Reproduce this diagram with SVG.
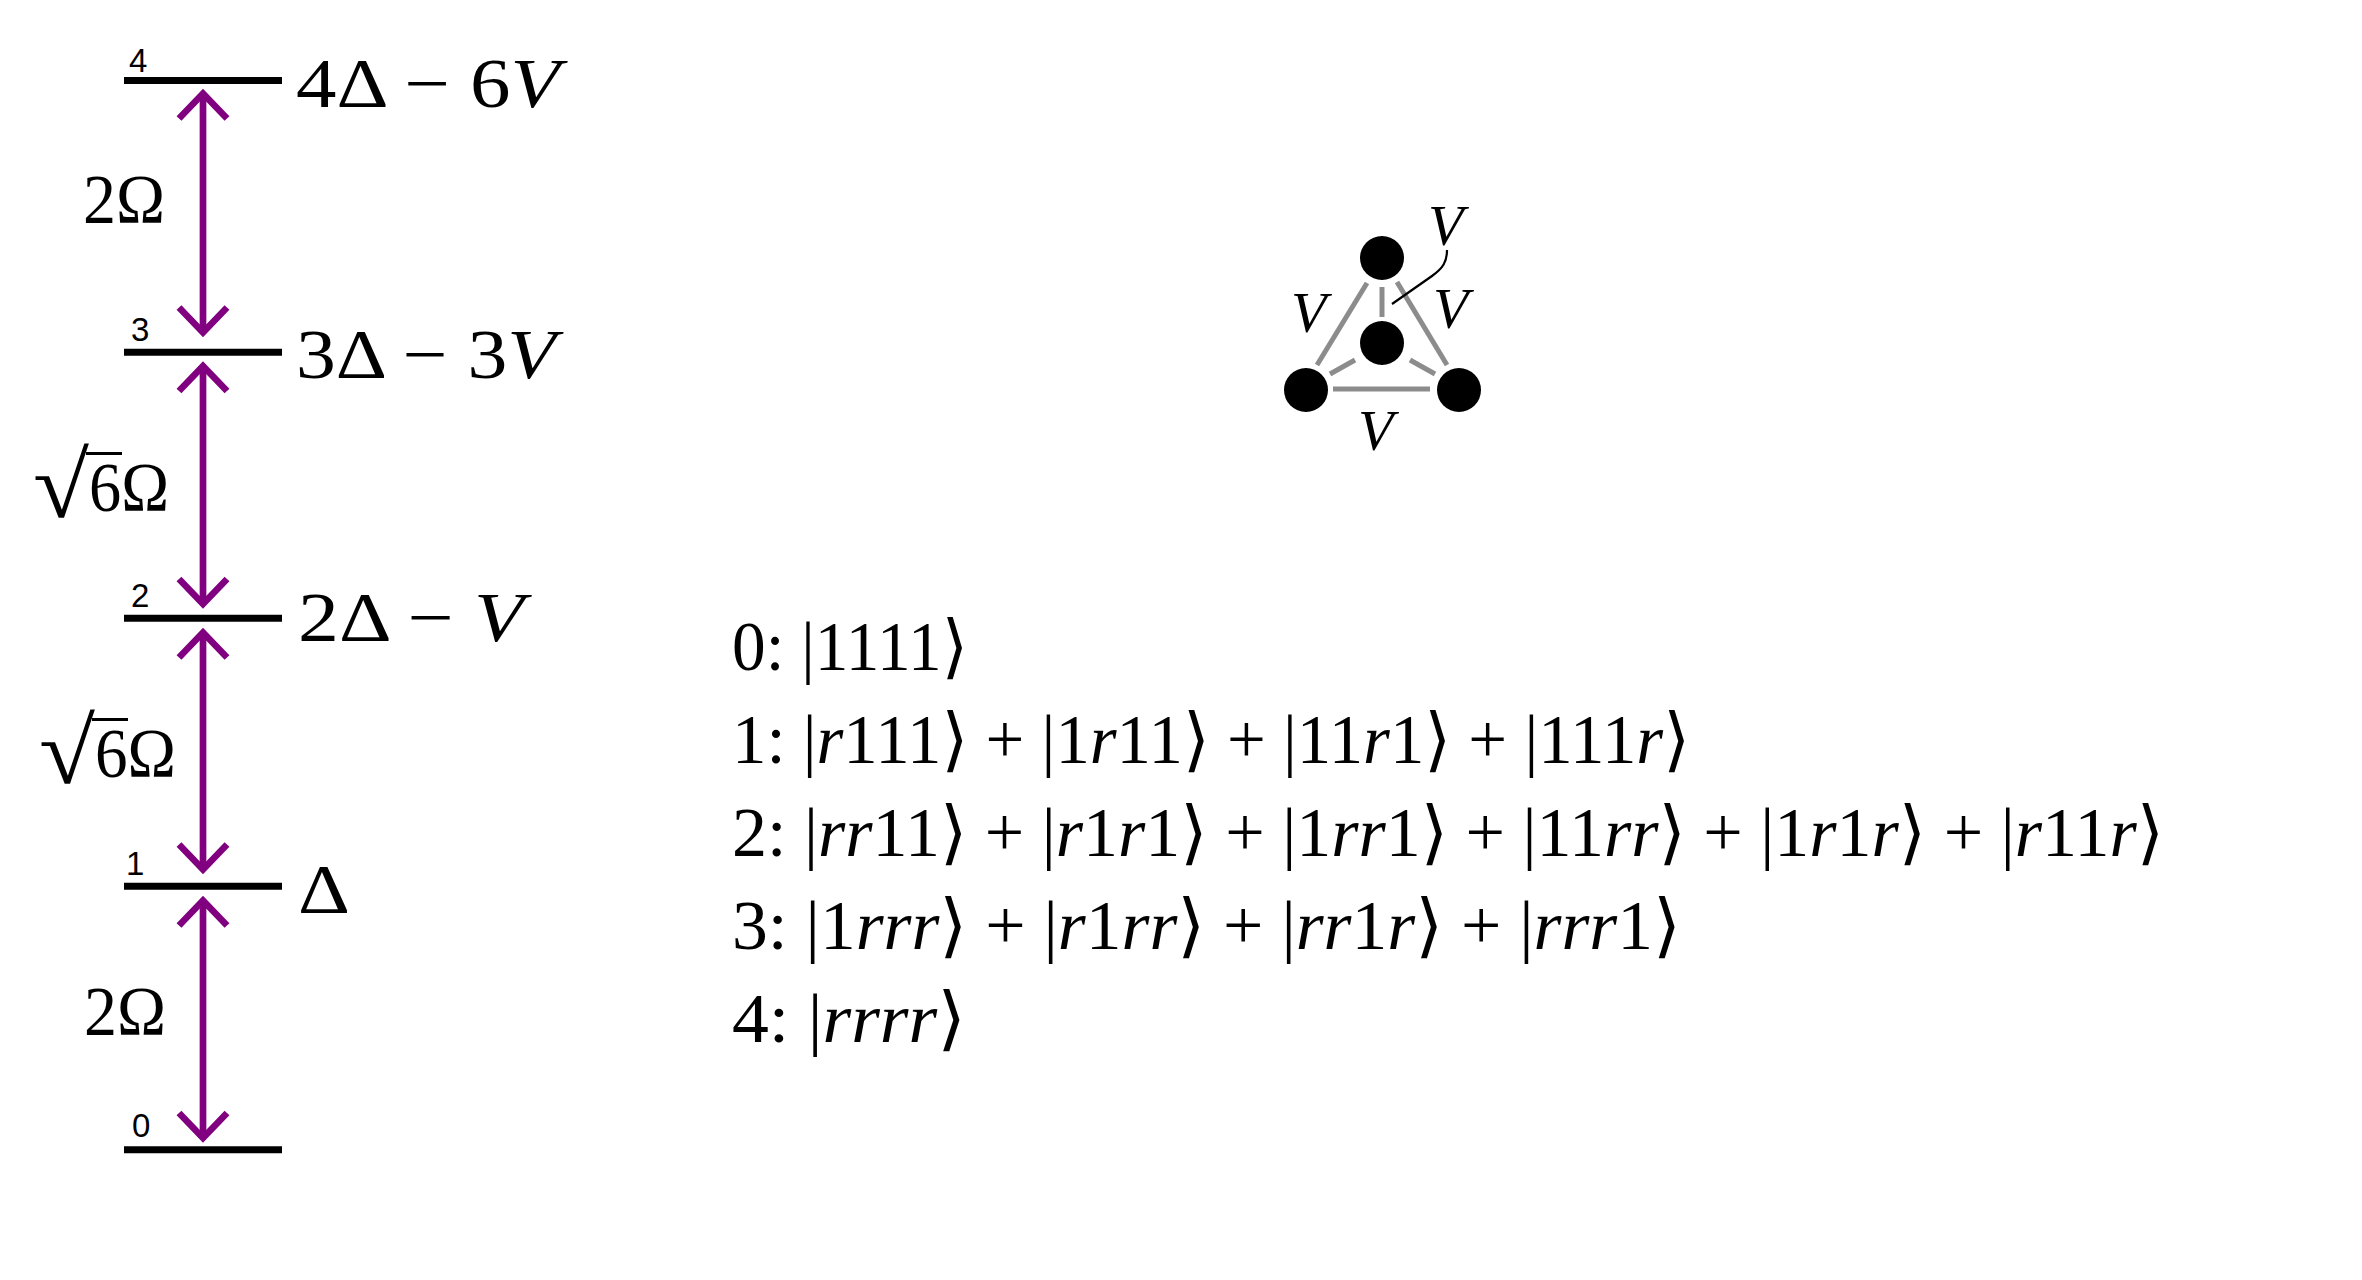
<svg xmlns="http://www.w3.org/2000/svg" width="2362" height="1280" viewBox="0 0 2362 1280">
<style>
.bg{fill:#fff}
.lvl{stroke:#000;stroke-width:7;fill:none}
.arr{stroke:#800080;stroke-width:6.7;fill:none;marker-start:url(#chev);marker-end:url(#chev)}
.m{font-family:"Liberation Serif","DejaVu Serif",serif;font-size:70px;fill:#000}
.rad{font-family:"Liberation Serif","DejaVu Serif",serif;font-size:93px;fill:#000}
.mv{font-family:"Liberation Serif","DejaVu Serif",serif;font-size:58px;font-style:italic;fill:#000}
.i{font-style:italic}
.n{font-family:"Liberation Sans",Arial,sans-serif;font-size:33px;fill:#000}
.edge{stroke:#8c8c8c;stroke-width:5;fill:none}
.node{fill:#000}
.lead{stroke:#000;stroke-width:2.2;fill:none}
.vinc{stroke:#000;stroke-width:3}
</style>
<defs>
<marker id="chev" markerUnits="userSpaceOnUse" viewBox="-40 -40 50 80" refX="0" refY="0" markerWidth="50" markerHeight="80" orient="auto-start-reverse" overflow="visible">
<path d="M-25,-24 L0,0 L-25,24" fill="none" stroke="#800080" stroke-width="6.7" stroke-miterlimit="10"/>
</marker>
</defs>
<rect class="bg" x="0" y="0" width="2362" height="1280"/>

<g id="levels">
<g id="level4"><line class="lvl" x1="124" y1="80.5" x2="282" y2="80.5"/><text class="n" x="129" y="72">4</text><text class="m" x="296" y="107" textLength="264" lengthAdjust="spacingAndGlyphs">4Δ − 6<tspan class="i">V</tspan></text></g>
<g id="level3"><line class="lvl" x1="124" y1="352.3" x2="282" y2="352.3"/><text class="n" x="131" y="341">3</text><text class="m" x="296" y="378" textLength="260" lengthAdjust="spacingAndGlyphs">3Δ − 3<tspan class="i">V</tspan></text></g>
<g id="level2"><line class="lvl" x1="124" y1="618.3" x2="282" y2="618.3"/><text class="n" x="131" y="607">2</text><text class="m" x="298" y="641" textLength="226" lengthAdjust="spacingAndGlyphs">2Δ − <tspan class="i">V</tspan></text></g>
<g id="level1"><line class="lvl" x1="124" y1="886.3" x2="282" y2="886.3"/><text class="n" x="126" y="875">1</text><text class="m" x="298" y="913" textLength="52" lengthAdjust="spacingAndGlyphs">Δ</text></g>
<g id="level0"><line class="lvl" x1="124" y1="1149.7" x2="282" y2="1149.7"/><text class="n" x="132" y="1137">0</text></g>
</g>

<g id="connectors">
<line class="arr" x1="203" y1="93.5" x2="203" y2="332.5"/>
<line class="arr" x1="203" y1="366" x2="203" y2="604"/>
<line class="arr" x1="203" y1="632.5" x2="203" y2="869.5"/>
<line class="arr" x1="203" y1="900.5" x2="203" y2="1138"/>
</g>

<g id="rabi-labels">
<text class="m" x="83" y="223" textLength="82" lengthAdjust="spacingAndGlyphs">2Ω</text>
<g><text class="rad" x="33" y="517" textLength="56" lengthAdjust="spacingAndGlyphs">√</text><line class="vinc" x1="86" y1="453.5" x2="122" y2="453.5"/><text class="m" x="89" y="511" textLength="80" lengthAdjust="spacingAndGlyphs">6Ω</text></g>
<g><text class="rad" x="39" y="783" textLength="56" lengthAdjust="spacingAndGlyphs">√</text><line class="vinc" x1="92" y1="719.5" x2="128" y2="719.5"/><text class="m" x="95" y="777" textLength="81" lengthAdjust="spacingAndGlyphs">6Ω</text></g>
<text class="m" x="84" y="1035" textLength="82" lengthAdjust="spacingAndGlyphs">2Ω</text>
</g>

<g id="tetrahedron">
<line class="edge" x1="1367" y1="283" x2="1317" y2="365"/>
<line class="edge" x1="1397" y1="282" x2="1447" y2="365"/>
<line class="edge" x1="1333" y1="389" x2="1430" y2="389"/>
<line class="edge" x1="1382" y1="287" x2="1382" y2="317"/>
<line class="edge" x1="1355" y1="360" x2="1330" y2="374"/>
<line class="edge" x1="1410" y1="360" x2="1435" y2="374"/>
<circle class="node" cx="1382" cy="258" r="22"/>
<circle class="node" cx="1382" cy="343" r="22"/>
<circle class="node" cx="1306" cy="390" r="22"/>
<circle class="node" cx="1459" cy="390" r="22"/>
<path class="lead" d="M1447,250 C1447,262 1443,268 1432,276 L1392,304"/>
<text class="mv" x="1428" y="245">V</text>
<text class="mv" x="1291" y="332">V</text>
<text class="mv" x="1433" y="328">V</text>
<text class="mv" x="1358" y="450">V</text>
</g>

<g id="states">
<text class="m" x="732" y="670" textLength="236" lengthAdjust="spacingAndGlyphs">0: |1111⟩</text>
<text class="m" x="732" y="763" textLength="958" lengthAdjust="spacingAndGlyphs">1: |<tspan class="i">r</tspan>111⟩ + |1<tspan class="i">r</tspan>11⟩ + |11<tspan class="i">r</tspan>1⟩ + |111<tspan class="i">r</tspan>⟩</text>
<text class="m" x="732" y="856" textLength="1432" lengthAdjust="spacingAndGlyphs">2: |<tspan class="i">rr</tspan>11⟩ + |<tspan class="i">r</tspan>1<tspan class="i">r</tspan>1⟩ + |1<tspan class="i">rr</tspan>1⟩ + |11<tspan class="i">rr</tspan>⟩ + |1<tspan class="i">r</tspan>1<tspan class="i">r</tspan>⟩ + |<tspan class="i">r</tspan>11<tspan class="i">r</tspan>⟩</text>
<text class="m" x="732" y="949" textLength="949" lengthAdjust="spacingAndGlyphs">3: |1<tspan class="i">rrr</tspan>⟩ + |<tspan class="i">r</tspan>1<tspan class="i">rr</tspan>⟩ + |<tspan class="i">rr</tspan>1<tspan class="i">r</tspan>⟩ + |<tspan class="i">rrr</tspan>1⟩</text>
<text class="m" x="732" y="1042" textLength="234" lengthAdjust="spacingAndGlyphs">4: |<tspan class="i">rrrr</tspan>⟩</text>
</g>
</svg>
